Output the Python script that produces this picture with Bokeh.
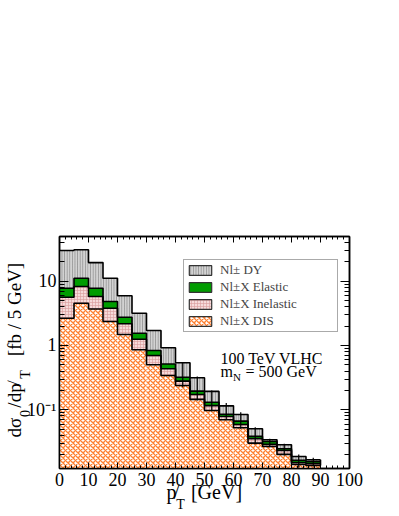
import numpy as np
from bokeh.plotting import figure
from bokeh.models import (FixedTicker, LinearAxis, LogAxis, Label, Legend, LegendItem,
                          CustomJSTickFormatter)
from bokeh.embed import file_html
from bokeh.resources import INLINE

# ---------------- data (fb / 5 GeV), stacked contributions per 5 GeV bin ----------------
bin_edges = [0, 5, 10, 15, 20, 25, 30, 35, 40, 45, 50, 55, 60, 65, 70, 75, 80, 85, 90]
dis       = [2.66, 4.55, 3.70, 2.36, 1.48, 0.857, 0.501, 0.341, 0.239, 0.145, 0.0975, 0.0699,
             0.0525, 0.0303, 0.0269, 0.0202, 0.0141, 0.0136]
inelastic = [2.98, 3.72, 2.08, 1.44, 0.70, 0.393, 0.198, 0.093, 0.040, 0.028, 0.0185, 0.0088,
             0.0065, 0.0051, 0.0020, 0.0031, 0.0009, 0.0009]
elastic   = [2.14, 2.83, 2.00, 1.03, 0.57, 0.300, 0.137, 0.081, 0.042, 0.022, 0.0150, 0.0064,
             0.0075, 0.0031, 0.0032, 0.0014, 0.0013, 0.0011]
drell_yan = [22.2, 19.7, 11.7, 6.27, 3.18, 1.63, 0.874, 0.406, 0.217, 0.120, 0.062, 0.030,
             0.018, 0.0122, 0.0020, 0.0039, 0.0025, 0.0011]
# error bars on the stack (bins 40-90 GeV)
err_centers = [42.5, 47.5, 52.5, 57.5, 62.5, 67.5, 72.5, 77.5, 82.5, 87.5]
err_high    = [0.551, 0.329, 0.199, 0.127, 0.0918, 0.0536, 0.0354, 0.0296, 0.0202, 0.0179]
err_low     = [0.224, 0.140, 0.095, 0.0699, 0.0507, 0.0289, 0.0262, 0.0195, 0.0127, 0.0131]

x_ticks = [0, 10, 20, 30, 40, 50, 60, 70, 80, 90, 100]
y_ticks = [0.1, 1, 10]
y_tick_labels = ["10⁻¹", "1", "10"]
legend_labels = ["Nl± DY", "Nl±X Elastic", "Nl±X Inelastic", "Nl±X DIS"]

# ---------------- geometry (canvas placed at page top-left) ----------------
W, H = 397, 514
BL, BT, FW, FH = 59, 236, 290, 232
BR = W - BL - FW
BB = H - BT - FH
XMIN, XMAX = 0, 100
YMIN, YMAX = 0.0122, 49.6
SERIF = "Liberation Serif"


def xd(px):
    return XMIN + (px - BL) / FW * (XMAX - XMIN)


def yd(py):
    lo, hi = np.log10(YMIN), np.log10(YMAX)
    return float(10 ** (hi - (py - BT) / FH * (hi - lo)))


p = figure(width=W, height=H, x_range=(XMIN, XMAX), y_range=(YMIN, YMAX),
           y_axis_type="log", output_backend="svg", toolbar_location=None,
           min_border_left=BL, min_border_right=BR, min_border_top=BT, min_border_bottom=BB)
p.xgrid.grid_line_color = None
p.ygrid.grid_line_color = None
p.outline_line_color = "black"
p.outline_line_width = 1.5
p.background_fill_color = "white"
p.border_fill_color = "white"

edges = np.array(bin_edges, dtype=float)
left, right = edges[:-1], edges[1:]
top_dis = np.array(dis)
top_inel = top_dis + np.array(inelastic)
top_el = top_inel + np.array(elastic)
top_dy = top_el + np.array(drell_yan)
base = np.full_like(top_dis, YMIN * 0.3)

styles = {
    "dy": dict(fill_color="#d2d2d2", hatch_pattern="vertical_line", hatch_color="#7d7d7d",
               hatch_scale=2.6, hatch_weight=0.7),
    "el": dict(fill_color="#009c00"),
    "inel": dict(fill_color="#f6dada", hatch_pattern="cross", hatch_color="#d99a9a",
                 hatch_scale=3, hatch_weight=0.6),
    "dis": dict(fill_color="white", hatch_pattern="diagonal_cross", hatch_color="#ff8030",
                hatch_scale=5, hatch_weight=1.3),
}
layers = [("dis", base, top_dis), ("inel", top_dis, top_inel),
          ("el", top_inel, top_el), ("dy", top_el, top_dy)]

rend = {}
for key, b, t in layers:
    p.quad(left=left, right=right, bottom=b, top=t, line_color=None, **styles[key])
    # outlined twin used only for the legend swatch (kept hidden in the plot)
    rend[key] = p.quad(left=left, right=right, bottom=b, top=t, line_color="#333333",
                       line_width=1.2, visible=False, **styles[key])

for arr in (top_dis, top_inel, top_el, top_dy):
    ys = list(arr) + [arr[-1]]
    p.step(x=list(edges), y=ys, mode="after", line_color="black", line_width=1.6)
p.segment(x0=[edges[-1]], y0=[top_dis[-1]], x1=[edges[-1]], y1=[top_dy[-1]],
          line_color="black", line_width=1.6)

p.segment(x0=err_centers, y0=err_low, x1=err_centers, y1=err_high,
          line_color="black", line_width=1.2)

legend = Legend(items=[LegendItem(label=l, renderers=[rend[k]])
                       for l, k in zip(legend_labels, ("dy", "el", "inel", "dis"))],
                location=(124, 136), label_text_font=SERIF, label_text_font_size="13px",
                glyph_width=28, glyph_height=12, label_height=12, label_width=115,
                label_standoff=6, spacing=1, padding=2, margin=0,
                inactive_fill_alpha=0.0,
                border_line_color="#555555", border_line_width=1,
                background_fill_color="white", background_fill_alpha=1)
p.add_layout(legend)

# axes
xticker = FixedTicker(ticks=x_ticks, minor_ticks=list(range(0, 101, 2)))
minor_y = [m * 10.0 ** e for e in (-2, -1, 0, 1) for m in range(2, 10)]
yticker = FixedTicker(ticks=y_ticks, minor_ticks=minor_y)


def style_axis(ax, is_y, show_labels):
    ax.axis_line_color = "black"
    ax.axis_line_width = 1.5
    ax.major_tick_in = 9 if is_y else 6
    ax.major_tick_out = 0
    ax.minor_tick_in = 5 if is_y else 3
    ax.minor_tick_out = 0
    ax.major_tick_line_color = "black"
    ax.minor_tick_line_color = "black"
    ax.major_tick_line_width = 1
    ax.minor_tick_line_width = 1
    ax.major_label_text_font = SERIF
    ax.major_label_text_font_size = "18px"
    ax.major_label_text_color = "black"
    if not show_labels:
        ax.formatter = CustomJSTickFormatter(code="return ''")
        ax.major_label_standoff = 0


xa = p.xaxis[0]
xa.ticker = xticker
style_axis(xa, False, True)
xa.major_label_standoff = 4

ya = p.yaxis[0]
ya.ticker = yticker
style_axis(ya, True, True)
ya.major_label_standoff = 3
ya.major_label_overrides = {t: s for t, s in zip(y_ticks, y_tick_labels)}

top_ax = LinearAxis(ticker=xticker)
style_axis(top_ax, False, False)
p.add_layout(top_ax, "above")
right_ax = LogAxis(ticker=yticker)
style_axis(right_ax, True, False)
p.add_layout(right_ax, "right")


# ---------------- axis titles: pieces carried as labels of tick-less extra axes ----------------
def title_axis(side, positions, texts, size, standoff):
    order = np.argsort(positions)
    pos = [float(positions[i]) for i in order]
    txt = [texts[i] for i in order]
    cls = LogAxis if side == "left" else LinearAxis
    ax = cls(ticker=FixedTicker(ticks=pos, minor_ticks=[]),
             formatter=CustomJSTickFormatter(args=dict(labels=txt), code="return labels[index]"))
    ax.axis_line_color = None
    ax.major_tick_line_color = None
    ax.minor_tick_line_color = None
    ax.major_tick_in = 0
    ax.major_tick_out = 0
    ax.minor_tick_in = 0
    ax.minor_tick_out = 0
    ax.major_label_text_font = SERIF
    ax.major_label_text_font_size = f"{size}px"
    ax.major_label_text_color = "black"
    ax.major_label_standoff = standoff
    if side == "left":
        ax.major_label_orientation = "parallel"
    p.add_layout(ax, side)


# x title: p̸_T [GeV]
title_axis("below", [xd(171), xd(216)], ["p̸", "[GeV]"], 20, -8)
title_axis("below", [xd(180)], ["T"], 14, -9)
# y title: dσ_0/dp̸_T [fb / 5 GeV]
title_axis("left", [yd(413), yd(374)], ["0", "T"], 14, -8)
title_axis("left", [yd(427), yd(395), yd(309)], ["dσ", "/dp̸", "[fb / 5 GeV]"], 19, -10)


def lab(px, py, text, size):
    p.add_layout(Label(x=xd(px), y=yd(py), text=text, text_font=SERIF,
                       text_font_size=f"{size}px", text_color="black",
                       text_align="left", text_baseline="alphabetic"))


# annotation
lab(220, 358, "100 TeV VLHC", 16)
lab(220, 371, "m", 16)
lab(232.5, 376, "N", 11)
lab(245, 371, "= 500 GeV", 16)

open("out.html", "w").write(file_html(p, INLINE))
